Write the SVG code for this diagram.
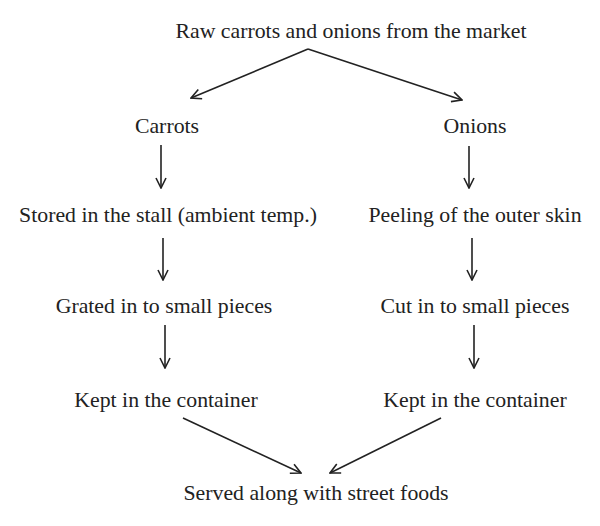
<svg xmlns="http://www.w3.org/2000/svg" width="600" height="526" viewBox="0 0 600 526">
<style>
text{font-family:"Liberation Serif","Times New Roman",serif;font-size:21.8px;fill:#222;text-anchor:middle}
.c line{stroke:#222;stroke-width:1.6;fill:none;marker-end:url(#ah)}
</style>
<defs>
<marker id="ah" viewBox="0 0 12 12" refX="11" refY="6" markerWidth="12" markerHeight="12" markerUnits="userSpaceOnUse" orient="auto">
<path d="M1,1 L11,6 L1,11" fill="none" stroke="#222" stroke-width="1.6"/>
</marker>
</defs>
<rect width="600" height="526" fill="#fff"/>
<g id="n0"><text x="351" y="38">Raw carrots and onions from the market</text></g>
<g id="n1"><text x="167" y="133">Carrots</text></g>
<g id="n2"><text x="475" y="133">Onions</text></g>
<g id="n3"><text x="168" y="222">Stored in the stall (ambient temp.)</text></g>
<g id="n4"><text x="475" y="222">Peeling of the outer skin</text></g>
<g id="n5"><text x="164" y="313">Grated in to small pieces</text></g>
<g id="n6"><text x="475" y="313">Cut in to small pieces</text></g>
<g id="n7"><text x="166" y="407">Kept in the container</text></g>
<g id="n8"><text x="475" y="407">Kept in the container</text></g>
<g id="n9"><text x="316" y="500">Served along with street foods</text></g>
<g class="c" id="connectors">
<line x1="308" y1="49" x2="191" y2="98"/>
<line x1="308" y1="49" x2="462" y2="100"/>
<line x1="161" y1="145" x2="161" y2="188"/>
<line x1="469" y1="146" x2="469" y2="188"/>
<line x1="163" y1="238" x2="163" y2="280"/>
<line x1="472" y1="238" x2="472" y2="280"/>
<line x1="165" y1="325" x2="165" y2="368"/>
<line x1="474" y1="325" x2="474" y2="368"/>
<line x1="183" y1="418" x2="301" y2="473"/>
<line x1="441" y1="418" x2="330" y2="473"/>
</g>
</svg>
